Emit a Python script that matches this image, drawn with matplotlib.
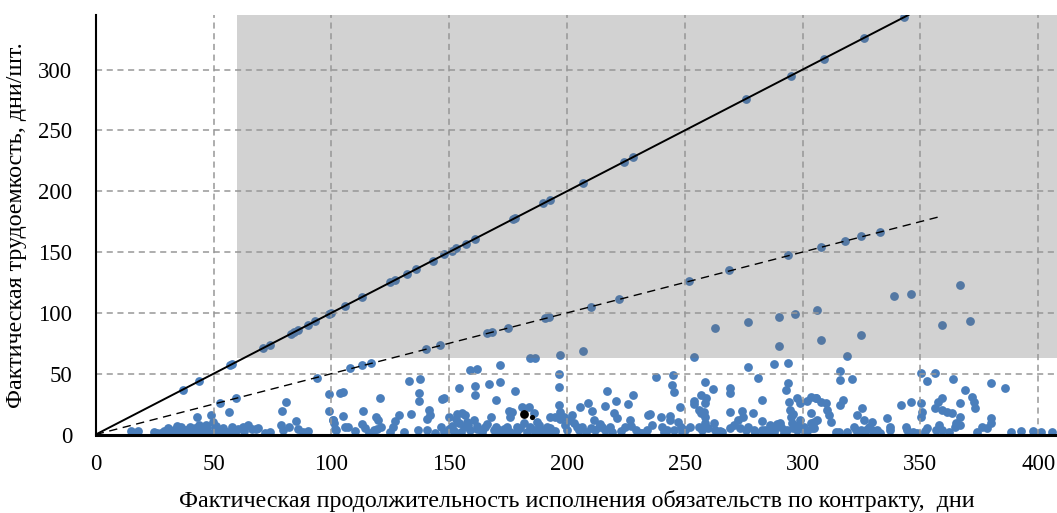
import numpy as np
import matplotlib.pyplot as plt
from matplotlib.patches import Rectangle

# --- данные: фактическая продолжительность (x) и трудоемкость (y) ---
# точки на линии y = x
x_diag = [37, 44, 57, 58, 71, 74, 83, 84, 86, 90, 93, 99, 100, 106, 113, 125, 127,
          132, 136, 143, 148, 151, 153, 157, 161, 177, 178, 190, 193, 207, 224, 228,
          276, 295, 309, 326, 343]
y_diag = [37, 44, 57, 58, 71, 74, 83, 84, 86, 90, 93, 99, 100, 106, 113, 125, 127,
          132, 136, 143, 148, 151, 153, 157, 161, 177, 178, 190, 193, 207, 224, 228,
          276, 295, 309, 326, 343]

# точки около пунктирной линии y = x/2
x_half = [52.8, 59.6, 93.8, 108, 113, 116.8, 140, 146, 166, 168.2, 175, 190.8, 192.2,
          210, 222, 252, 268.7, 293.9, 308, 318, 325, 332.8]
y_half = [26.2, 29.7, 46.7, 54.5, 57, 59, 70.7, 74, 83.2, 84, 87.3, 95.7, 96.3,
          105, 111, 126, 135, 147.2, 154.3, 159.2, 162.8, 166.6]

# прочие точки в верхней части
x_upper = [184.4, 186.6, 197, 206.8, 253.8, 263, 277, 290, 297, 306, 290, 308, 325, 319,
           339, 345.9, 367, 359, 371, 294, 287.8, 276.9, 171.7, 159, 161.8, 196.8,
           315.9, 350.1, 356.1]
y_upper = [62.6, 63, 65.7, 68.7, 63.6, 87.7, 92.1, 96.7, 99, 102.3, 72.6, 77.4, 81.7, 64.5,
           113.6, 115.8, 122.9, 90.3, 93, 59, 57.6, 55.7, 57.1, 53, 53.5, 49.5,
           52.4, 50.3, 50.8]

# основная масса точек внизу
x_low = [15, 17.8, 24.7, 27.7, 30.8, 31.5, 33, 34.6, 35, 39.5, 40, 41.4, 42.8, 44, 45.7,
         46.4, 47.1, 48.8, 49.9, 50.6, 51.3, 52.5, 54.2, 55.6, 56.7, 57.7, 59.1, 60.5,
         62.7, 64.8, 66.2, 67.9, 71.9, 78.7, 79.4, 80.8, 79, 84.9, 86, 89.9, 98.8, 98.8,
         100.6, 101.3, 101.9, 103.5, 37, 38, 43, 48, 50, 53, 47, 45, 42,
         100.9, 101.6, 104.9, 104.9, 105.9, 106.9, 113.6, 112.9, 114.4, 117.9, 119.3,
         120.7, 118.9, 120, 121, 124.7, 127, 128.8, 132.8, 137.7, 133.9, 137.3, 137.3,
         136.8, 140.8, 141.3, 142, 140.8, 146.9, 147.9, 146.6, 149.8, 154, 153.3, 155.4,
         156.8, 154, 156.1, 157.6, 159, 160.4, 161.8, 163.9, 165.3, 160.8, 160.8, 166.9,
         171.7, 169.9, 167.9, 168.9, 171, 173.1, 174.5, 177.8, 175.2, 176.6, 175.9, 181,
         183.7, 185.9, 178.8, 181.6, 184.4, 187.3, 189.4, 191.5, 193, 195.1, 197, 197.2,
         196.8, 196.8, 198.6, 202, 204.3,
         152, 155, 158, 162, 164, 166, 170, 172, 176, 179, 183, 186, 188, 190, 193, 195,
         199, 200, 153, 150,
         201.4, 202.8, 205, 206.3, 205.7, 208.8, 210.6, 211.4, 212.1, 213.5, 214.9, 216.3,
         218.4, 216.9, 216, 219.9, 221, 221.3, 224.8, 226.9, 225.8, 228, 229.3, 231.2,
         234, 234.3, 235.1, 238, 239.9, 240.4, 242.5, 243.9, 245.1, 244.6, 245.3, 243.9,
         245.3, 247.9, 248.2, 250.3, 253.9, 254.1, 255.9, 256.7, 257.1, 258.1, 258.8,
         258.8, 258.9, 252.4, 255.9, 257.4, 258.8, 262.3, 263, 258.8, 261.9, 269, 269,
         269, 269, 272.6, 273.3, 274.5, 274.7, 275.9, 279, 281, 282.9, 279.3, 282.9,
         282.9, 285.7, 287.8, 289.2, 290.6, 292, 293.9, 293, 294.2, 294.6, 294.9, 295.6,
         297.7, 299.1, 301.9, 305.5, 293.5, 297.7, 300.6, 303.4, 306.2,
         284, 286, 288, 291, 296, 298, 302, 299, 296, 266, 271, 277, 247, 236, 223, 208,
         210,
         303.4, 305.5, 307.7, 309.8, 310.5, 311.2, 311.9, 303.4, 304.8, 304.1, 314,
         315.5, 315.9, 321.1, 316.1, 317.1, 321.8, 322.5, 323.3, 325.3, 324.6, 326,
         326.8, 329.6, 329.6, 331.7, 336, 337, 337.1, 341.9, 345.9, 343.8, 344.5, 348.7,
         353, 350.1, 350.9, 350.1, 353, 356.5, 357.9, 362.2, 356.2, 357.6, 359.3, 359.3,
         361.5, 363.6, 364, 366.8, 366.8, 365.3, 364.6, 369, 372, 372.8, 373, 376.3,
         378.5, 379.9, 379.9, 379.9, 386, 388.3, 392.9, 398, 401.1, 406,
         26, 29, 36, 39, 44, 51, 55, 58, 63, 69, 74, 82, 88, 110, 116, 126, 131, 144,
         148, 151, 174, 180, 187, 192, 214, 219, 227, 232, 241, 249, 260, 265, 280,
         289, 292, 301, 305, 319, 328, 333, 347, 352, 359, 367, 374]
y_low = [3.1, 3.1, 1.8, 1.2, 5.6, 1.8, 3.7, 6.7, 2.3, 4.2, 6.4, 2.3, 14.1, 3.7, 2.3,
         3.7, 6.4, 15.7, 10.5, 5, 3.7, 2.3, 5, 2.3, 18.5, 3.7, 2.3, 4.2,
         6.4, 7.8, 4.2, 4.5, 1.5, 8.1, 3.7, 27, 19.6, 11.1, 4.5, 3.1, 33, 19.6,
         11.9, 9.2, 3.7, 34.3, 1.5, 4, 1, 1.2, 1, 4, 8, 5, 5,
         11.9, 4.2, 34.9, 15.2, 5.9, 5.9, 19.3, 8.6, 5.1, 3.7, 4.5,
         30.2, 14.1, 11.9, 6.4, 1.8, 11.1, 16, 44.2, 45.8, 16.8, 34, 27.5,
         3.7, 12.5, 20.1, 16, 3.7, 29.2, 29.7, 5.9, 4.2, 38.4, 16.8, 17.4,
         16, 9.2, 6.4, 10.5, 3.7, 11.9, 4.2, 3.7, 6.4, 40.1, 32.2, 41.5,
         42.9, 28.3, 14.1, 3.7, 3.7, 4.8, 6.4, 35.7, 19.3, 18.8, 14.6, 22.8,
         22.8, 17.4, 6.4, 9.2, 6.4, 10.5, 3.7, 6.4, 14.6, 14.1, 18.8, 12.5,
         39.3, 24.2, 14.6, 16.4, 6.4,
         3, 2, 8, 7, 2, 9, 6, 2, 2, 3, 2, 4, 8, 2, 5, 3,
         8, 4, 13, 14,
         11.9, 9.2, 3.7, 6.4, 22.8, 26.2, 19.3, 11.9, 3.7, 6.4, 6.4, 3.7,
         6.4, 36, 23.7, 17.4, 27.5, 13.3, 6.4, 11.9, 25, 32.5, 3.7, 1,
         3.7, 16, 16.8, 47.5, 14.1, 6.4, 3.7, 15.2, 48.9, 40.7, 35.2, 11.9,
         3.7, 22.3, 6.4, 3.7, 27.5, 25, 20.1, 32.5, 17.4, 18.8, 26.2,
         14.6, 29.7, 6.4, 6.4, 3.7, 9.2, 9.7, 3.7, 42.9, 37.1, 37.9, 33.8,
         18.8, 5.1, 11.9, 5.1, 19.3, 14.6, 3.7, 17.4, 46.7, 28.3, 3.7, 11.4,
         3.7, 1, 5.1, 6.4, 9.2, 3.7, 42, 36.6, 26.9, 20.1, 14.6, 9.2,
         29.7, 25.6, 27.7, 29.7, 3.7, 3.7, 6.4, 9.2, 11.9,
         4, 8, 2, 6, 5, 8, 3, 12, 17, 2, 8, 6, 10, 8, 3, 2,
         5,
         31.1, 29.7, 27, 25.6, 20.1, 16, 10.5, 17.4, 10.5, 5.1, 2.3,
         2.3, 44.8, 45.6, 24.2, 28.3, 6.4, 3.7, 16, 21.5, 3.7, 11.9,
         3.7, 10.5, 3.7, 3.7, 13.3, 6.4, 3.7, 24.2, 27, 6.4, 3.7, 1,
         44.2, 25.6, 18.8, 14.1, 5.6, 3.7, 7.8, 2.3, 21.5, 27, 29.7, 20.1,
         18.8, 17.9, 45.3, 26.2, 14.1, 9.2, 6.4, 36.6, 31.1, 27, 21.5, 6.4,
         5.1, 13.3, 9.2, 42, 38.4, 2.3, 2.9, 3.1, 2.3, 2.3,
         1, 3, 6, 2, 8, 7, 1, 6, 3, 5, 2, 6, 2, 3, 1, 6, 2, 1,
         2, 7, 1, 5, 2, 1, 9, 2, 7, 1, 2, 2, 5, 3, 2,
         9, 1, 2, 5, 2, 6, 1, 2, 3, 4, 8, 2]

# выделенные черным точки
x_black = [181.6, 185]
y_black = [16.8, 14.4]

# линии y = x и y = x/2
line_x = [0, 345]
line_y = [0, 345]
half_x = [0, 358]
half_y = [0, 179]

# граница затемненной области
zone_x0 = 60
zone_y0 = 62.5

plt.rcParams["font.family"] = ["Liberation Serif", "DejaVu Serif"]

fig = plt.figure(figsize=(10.57, 5.13), dpi=100)
ax = fig.add_axes([0.0906, 0.153, 0.9094, 0.818])

xs = x_diag + x_half + x_upper + x_low
ys = y_diag + y_half + y_upper + y_low
ax.scatter(xs, ys, s=40, color="#4A7EBB", linewidths=0, zorder=1)
ax.scatter(x_black[:1], y_black[:1], s=40, color="black", linewidths=0, zorder=1.2)
ax.scatter(x_black[1:], y_black[1:], s=14, color="black", linewidths=0, zorder=1.2)

ax.add_patch(Rectangle((zone_x0, zone_y0), 500, 500, facecolor="#6C6C6C",
                       alpha=0.3, edgecolor="none", zorder=1.5))

ax.plot(line_x, line_y, color="black", linewidth=1.4, zorder=3)
ax.plot(half_x, half_y, color="black", linewidth=1.0, linestyle=(0, (6, 4)), zorder=3)

ax.set_xlim(0, 408)
ax.set_ylim(0, 345)
ax.set_xticks(np.arange(0, 401, 50))
ax.set_yticks(np.arange(0, 301, 50))
ax.grid(True, color="#979797", linestyle=(0, (4, 3)), linewidth=1.1, zorder=2.5)
ax.set_axisbelow(False)

for s in ["top", "right"]:
    ax.spines[s].set_visible(False)
ax.spines["left"].set_linewidth(1.5)
ax.spines["bottom"].set_linewidth(2.2)
ax.spines["left"].set_zorder(4)
ax.spines["bottom"].set_zorder(4)
ax.tick_params(length=0, labelsize=16.5)
ax.tick_params(axis="y", pad=17)
ax.tick_params(axis="x", pad=14)

ax.set_xlabel("Фактическая продолжительность исполнения обязательств по контракту,  дни",
              fontsize=17.3, labelpad=11)
ax.set_ylabel("Фактическая трудоемкость, дни/шт.", fontsize=17.3, labelpad=8)

plt.savefig("out.png", dpi=100)
